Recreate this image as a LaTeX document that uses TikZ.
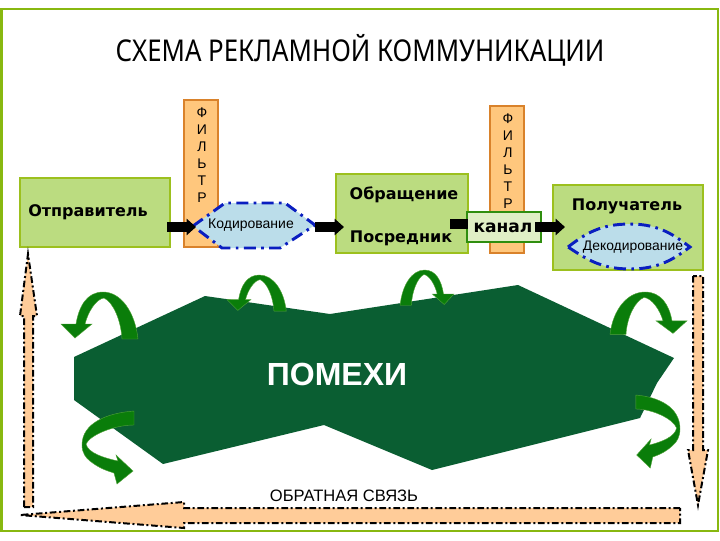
\documentclass[tikz,border=0pt]{standalone}
\usepackage{fontspec}
\setmainfont{Noto Sans}
\newfontfamily\vrd{DejaVu Sans}
\newfontfamily\ari{Liberation Sans}
\newfontfamily\ttl[FakeStretch=0.86]{Noto Sans}
\usetikzlibrary{arrows.meta}
\definecolor{frameG}{HTML}{88B810}
\definecolor{boxF}{HTML}{BBDC80}
\definecolor{boxL}{HTML}{9CC01E}
\definecolor{orF}{HTML}{FFC77D}
\definecolor{orL}{HTML}{D9822B}
\definecolor{blobG}{HTML}{0A5E32}
\definecolor{arrG}{HTML}{0A7D0A}
\definecolor{peach}{HTML}{FFCC99}
\definecolor{hexF}{HTML}{BBDDEA}
\definecolor{hexL}{HTML}{0A1EC0}
\tikzset{
  x=0.75pt,y=-0.75pt,
  boxst/.style={draw=boxL,fill=boxF,line width=1.4pt,inner sep=0pt},
  filterst/.style={draw=orL,fill=orF,line width=1.4pt,inner sep=0pt,minimum width=25.5pt},
  canalst/.style={draw=arrG!75!boxL,fill=boxF!45!white,line width=1.4pt,inner sep=0pt,minimum width=55.5pt,minimum height=22.5pt},
  hexst/.style={draw=hexL,fill=hexF,line width=2.2pt,dash pattern=on 9pt off 4pt on 2pt off 4pt},
  fbst/.style={draw=black,fill=peach,line width=1.5pt,dash pattern=on 5pt off 2pt on 1.5pt off 2pt},
  blk/.style={draw=black,line width=7pt,-{Triangle[width=12pt,length=7pt]}},
  blkplain/.style={draw=black,line width=7pt},
  bold/.style={font=\vrd\bfseries\fontsize{12}{14}\selectfont,inner sep=0pt},
  filtertxt/.style={font=\ari\fontsize{10.5}{12.75}\selectfont,align=center,inner sep=0pt},
  curvedarrow/.pic={
    \fill[arrG,draw=arrG!60!boxF,line width=0.3pt]
      (77,47) .. controls (74,20) and (60,0) .. (42,0)
      .. controls (26,0) and (18,14) .. (15,32) -- (0,32) -- (14,46) -- (31,32) -- (24,32)
      .. controls (27,20) and (35,7) .. (43,6)
      .. controls (52,10) and (60,28) .. (61,47) -- cycle;
  },
  backarrow/.pic={
    \fill[arrG,draw=arrG!60!boxF,line width=0.3pt]
      (52,0) .. controls (25,2) and (0,12) .. (0,34)
      .. controls (0,42) and (4,47) .. (8,50)
      .. controls (18,58) and (26,60) .. (32,62) -- (35,73) -- (51,60) -- (34,44) -- (36,50)
      .. controls (22,47) and (6,42) .. (4,33)
      .. controls (8,24) and (32,14) .. (52,14) -- cycle;
  }
}
\begin{document}
\begin{tikzpicture}
\useasboundingbox (0,0) rectangle (720,540);
\fill[white] (0,0) rectangle (720,540);
\draw[frameG,line width=1.5pt] (1.5,9) -- (1.5,531) -- (718,531) -- (718,9) -- cycle;
\node[font=\ttl\fontsize{22.5}{26}\selectfont,inner sep=0pt] (title) at (360,50) {СХЕМА РЕКЛАМНОЙ КОММУНИКАЦИИ};

% filters
\node[filterst,minimum height=110.25pt] (f1) at (201,173.5) {};
\node[filterst,minimum height=110.25pt] (f2) at (507,179.5) {};
\node[filtertxt] (f1t) at (202,155) {Ф\\И\\Л\\Ь\\Т\\Р};
\node[filtertxt] (f2t) at (508,161) {Ф\\И\\Л\\Ь\\Т\\Р};

% boxes
\node[boxst,minimum width=112.5pt,minimum height=51.75pt] (snd) at (95,212.5) {};
\node[boxst,minimum width=99pt,minimum height=59.25pt] (msg) at (402,213.5) {};
\node[boxst,minimum width=112.5pt,minimum height=63.75pt] (rcv) at (628,227.5) {};
\node[bold] (sndt) at (88,212) {Отправитель};
\node[bold] (msgt1) at (404,195) {Обращение};
\node[bold] (msgt2) at (401,238) {Посредник};
\node[bold] (rcvt) at (627,206) {Получатель};

% hexagons
\draw[hexst] (193,226) -- (225,203) -- (285,203) -- (315,225) -- (280,248) -- (222,248) -- cycle;
\node[font=\ari\fontsize{10.5}{12}\selectfont,inner sep=0pt] (kod) at (251,225) {Кодирование};
\draw[hexst] (568,247) .. controls (585,234) and (600,224) .. (630,224) .. controls (660,224) and (675,236) .. (690,247) .. controls (675,258) and (660,269) .. (630,269) .. controls (600,269) and (585,258) .. cycle;
\node[font=\ari\fontsize{10.4}{12}\selectfont,inner sep=0pt] (dek) at (633,247) {Декодирование};

% canal
\node[canalst] (canal) at (504,227) {};
\node[bold,font=\vrd\bfseries\fontsize{12.8}{14}\selectfont] (canalt) at (503,228) {канал};

% connectors
\coordinate (a1s) at (167,227); \coordinate (a1e) at (196,227);
\coordinate (a2s) at (315,227); \coordinate (a2e) at (344,227);
\coordinate (a3s) at (450,224); \coordinate (a3e) at (468,224);
\coordinate (a4s) at (535,227); \coordinate (a4e) at (565,227);
\draw[blk] (a1s) -- (a1e);
\draw[blk] (a2s) -- (a2e);
\draw[blkplain] (a3s) -- (a3e);
\draw[blk] (a4s) -- (a4e);

% noise
\fill[blobG] (74,400) -- (74,357) -- (205,296) -- (330,314) -- (518,285) -- (674,358) -- (657,383) -- (640,418) -- (432,470) -- (324,425) -- (163,464) -- cycle;
\node[font=\ari\bfseries\fontsize{24}{28}\selectfont,text=white,inner sep=0pt] (pom) at (337,374) {ПОМЕХИ};

% curved arrows
\pic at (61,292) {curvedarrow};
\pic[xscale=0.77,yscale=0.77] at (227,275) {curvedarrow};
\pic[xscale=-0.7,yscale=0.75] at (454,270) {curvedarrow};
\pic[xscale=-1,yscale=0.9] at (687,292) {curvedarrow};
\pic at (82,411) {backarrow};
\pic[xscale=-0.85,yscale=1] at (680,395) {backarrow};

\node[font=\ari\fontsize{12.4}{15}\selectfont,inner sep=0pt] (obr) at (344,496) {ОБРАТНАЯ СВЯЗЬ};

% feedback arrows
\draw[fbst] (24,507) -- (24,316) -- (20,316) -- (28,254) -- (37,316) -- (33,316) -- (33,507) -- cycle;
\draw[fbst] (680,508) -- (184,508) -- (184,502) -- (20,515) -- (184,528) -- (184,523) -- (680,523) -- cycle;
\draw[fbst] (693,276) -- (693,450) -- (688,450) -- (698,505) -- (708,450) -- (703,450) -- (703,276) -- cycle;
\end{tikzpicture}
\end{document}
